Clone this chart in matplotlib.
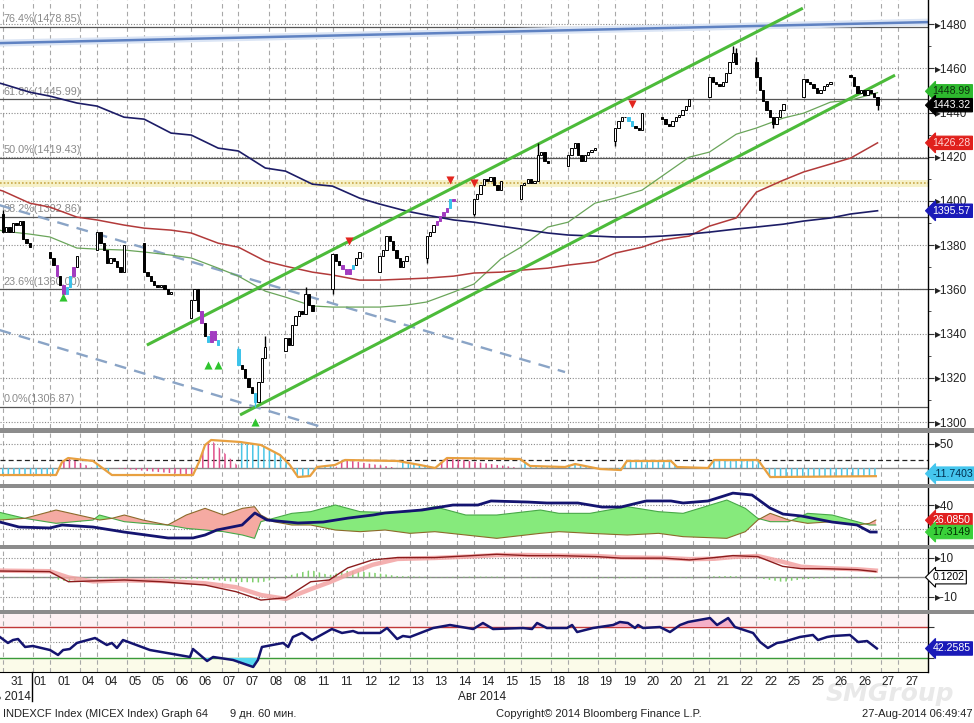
import numpy as np
import matplotlib
matplotlib.use('Agg')
import matplotlib.pyplot as plt
from matplotlib.patches import Rectangle
import matplotlib.transforms as mtransforms

FONT = ['DejaVu Sans Condensed', 'Liberation Sans Narrow', 'Liberation Sans', 'DejaVu Sans']
plt.rcParams['font.family'] = FONT
plt.rcParams['hatch.linewidth'] = 1.1

# ---------------- data ----------------
day_labels = ['31', '01', '01', '04', '04', '05', '05', '06', '06', '07', '07', '08', '08',
              '11', '11', '12', '12', '13', '13', '14', '14', '15', '15', '18', '18', '19', '19',
              '20', '20', '21', '21', '22', '22', '25', '25', '26', '26', '27', '27']

# hourly MICEX bars: 19 sessions x 9 bars (31 Jul .. 26 Aug 2014)
day_open = [1394, 1377, 1378, 1381, 1347, 1333, 1332, 1360, 1368, 1374,
            1394, 1401, 1416, 1427, 1438, 1447, 1463, 1447, 1457]
closes = [
    1386, 1388, 1386, 1390, 1389, 1391, 1383, 1381, 1379,
    1374, 1371, 1366, 1362, 1358, 1361, 1366, 1370, 1375,
    1386, 1381, 1378, 1372, 1374, 1373, 1370, 1368, 1380,
    1368, 1366, 1364, 1362, 1361, 1362, 1360, 1358, 1359,
    1355, 1360, 1350, 1345, 1339, 1336, 1341, 1337, 1335,
    1326, 1324, 1320, 1316, 1313, 1309, 1318, 1329, 1334,
    1338, 1335, 1344, 1348, 1350, 1349, 1358, 1353, 1350,
    1376, 1373, 1371, 1369, 1367, 1369, 1371, 1374, 1377,
    1375, 1378, 1384, 1382, 1378, 1374, 1370, 1373, 1375,
    1384, 1386, 1389, 1391, 1393, 1395, 1397, 1401, 1400,
    1401, 1403, 1407, 1410, 1409, 1411, 1407, 1405, 1409,
    1407, 1408, 1410, 1408, 1409, 1421, 1422, 1418, 1417,
    1421, 1424, 1426, 1421, 1418, 1421, 1422, 1423, 1424,
    1433, 1436, 1438, 1438, 1436, 1434, 1433, 1432, 1440,
    1437, 1435, 1434, 1436, 1438, 1439, 1441, 1443, 1446,
    1456, 1454, 1453, 1452, 1454, 1458, 1463, 1467, 1462,
    1456, 1450, 1445, 1441, 1438, 1435, 1438, 1441, 1444,
    1455, 1454, 1453, 1451, 1449, 1450, 1452, 1453, 1454,
    1456, 1452, 1449, 1450, 1448, 1450, 1449, 1447, 1443.32]
wick_high = {0: 1396, 45: 1334, 53: 1339, 60: 1361, 104: 1426, 142: 1470, 143: 1469, 144: 1465}
wick_low = {13: 1356, 50: 1306.87, 63: 1358, 81: 1372, 90: 1393, 117: 1425, 149: 1433, 170: 1441}
bar_mark = {11: 'p', 13: 'p', 14: 'c', 15: 'c', 16: 'p',
            39: 'p', 41: 'c', 42: 'p', 43: 'p', 44: 'c', 45: 'c', 50: 'c',
            66: 'p', 67: 'p', 68: 'p', 69: 'c',
            84: 'p', 85: 'p', 86: 'p', 87: 'p', 88: 'c', 89: 'p', 121: 'c', 122: 'c'}
up_arrows = [(13, 1356.5), (41, 1326), (44, 1326), (50, 1299.8)]
down_arrows = [(68, 1382), (88, 1409.5), (90, 1408), (122, 1444)]

# moving averages sampled at session start / end
navy_ma = [1453.3,
           1452.9, 1449.2, 1447.4, 1444.3, 1442.9, 1437.9, 1437.0, 1430.7,
           1429.8, 1423.9, 1422.6, 1414.9, 1413.5, 1407.6, 1406.7, 1401.3,
           1398.6, 1395.4, 1393.6, 1391.4, 1390.4, 1388.6, 1387.3, 1385.5,
           1384.6, 1384.1, 1383.7, 1383.7, 1384.1, 1385.0, 1385.9, 1387.3,
           1388.2, 1389.5, 1390.9, 1392.3, 1394.1, 1395.57]
red_ma = [1404.9,
          1404.5, 1399.0, 1397.2, 1392.7, 1391.4, 1389.1, 1387.7, 1386.8,
          1385.5, 1380.9, 1379.1, 1372.8, 1370.5, 1367.8, 1366.5, 1364.2,
          1364.2, 1364.7, 1365.1, 1366.0, 1367.4, 1367.8, 1368.7, 1369.6,
          1371.0, 1372.4, 1376.4, 1379.1, 1382.3, 1384.1, 1388.6, 1392.3,
          1404.0, 1409.4, 1413.1, 1416.7, 1419.4, 1426.28]
green_ma = [1386.8,
            1386.4, 1385.0, 1383.7, 1378.7, 1378.2, 1377.8, 1376.9, 1375.5,
            1374.2, 1369.6, 1366.0, 1359.2, 1356.5, 1352.5, 1352.0, 1352.0,
            1352.0, 1352.9, 1354.3, 1358.8, 1362.4, 1373.7, 1379.1, 1388.2,
            1390.4, 1399.0, 1401.3, 1404.9, 1411.3, 1419.8, 1422.1, 1430.2,
            1433.0, 1437.5, 1439.7, 1444.7, 1445.6, 1448.99]

fib_pct = [76.4, 61.8, 50.0, 38.2, 23.6, 0.0]
fib_val = [1478.85, 1445.99, 1419.43, 1392.86, 1360.00, 1306.87]
upper_channel = [(42.8, 1334.8), (237.8, 1487.2)]
lower_channel = [(70.5, 1303.2), (265.2, 1456.9)]
dashed_a = [(-1.0, 1398.1), (167.1, 1322.6)]
dashed_b = [(-1.0, 1341.6), (95.8, 1297.3)]
blue_line = [(-1.0, 1471.4), (275.0, 1480.9)]
resist_level = 1408.1

# panel 2 oscillator
osc_x = [-0.9, 15.8, 17.6, 19.4, 26.8, 32.4, 56.5, 58.3, 60.1, 61.9, 70.5, 76.7, 82.4,
         85.3, 87.7, 91.3, 93.4, 98.7, 101.7, 117.4, 124, 128.5, 132, 153.7, 156.7,
         167.1, 170.1, 177.5, 183.7, 185.5, 198.6, 200.4, 209.6, 211.4, 224.5, 228.1, 259.5]
osc_v = [-14.6, -14.6, 12.5, 20.8, 14.6, -14.6, -14.6, 12.5, 47.9, 58.3, 54.2, 47.9, 27,
         6.3, -18.8, -16.7, 2.1, 6.3, 16.7, 14.6, 6.3, 0, 20.8, 18.8, 4.2,
         2.1, 8.3, -2.1, -4.2, 14.6, 14.6, 2.1, 0, 16.7, 16.7, -18.8, -17.0]
pink_spans = [(16.5, 19.5), (56, 63), (100, 103), (128, 134)]

# panel 3 ADX / DMI
adx_x = [-0.9, 4.8, 14, 17.6, 26.8, 36, 49.1, 56.5, 60.1, 63.6, 71.1, 74.9, 78.5, 87.7,
         95.2, 102.6, 110, 113.6, 124.6, 133.8, 141.2, 145.1, 156.1, 161.7, 170.9, 178.1,
         183.7, 191.2, 198.6, 202.2, 209.6, 217, 222.7, 228, 231.9, 237.3, 246.5, 253.9,
         257.8, 259.6]
adx_v = [25.7, 21.5, 20.7, 23.2, 21.5, 17.3, 12.3, 12.3, 14.8, 19, 23.2, 33.3, 27.4, 24.9,
         25.7, 29, 31.6, 33.3, 35.8, 40, 40, 43.4, 42.5, 41.7, 41.7, 38.3,
         38.3, 43.4, 43.4, 41.7, 43.4, 50, 48.4, 37.5, 32.4, 30.8, 25.7, 23.2,
         17.3, 17.3]
di_x = [-0.9, 6.5, 15.8, 26.8, 28.7, 32.4, 36.1, 41.6, 49, 54.5, 60.1, 65.6, 71.2, 74.8,
        76.7, 80.4, 85.9, 91.5, 98.8, 106.2, 113.6, 121, 128.4, 137.6, 146.8, 159.8, 165.3,
        174.5, 185.6, 194.9, 202.2, 215.2, 220.7, 224.4, 228.1, 233.6, 239.2, 246.5, 253.9,
        257.6, 259.5]
di_plus = [33.8, 28.8, 24.6, 27.4, 31.6, 28.8, 26.0, 24.6, 23.2, 20.4, 19.0, 17.6, 14.8, 12.0,
           26.0, 28.8, 33.0, 34.4, 40.0, 34.4, 33.8, 34.4, 38.6, 31.6, 31.6, 35.8, 33.0,
           33.0, 38.6, 34.4, 33.0, 44.2, 37.2, 28.8, 26.0, 26.0, 33.0, 31.6, 26.0, 23.2, 23.2]
di_minus = [27.4, 28.8, 35.8, 28.8, 27.4, 28.8, 31.6, 27.4, 23.2, 31.6, 37.2, 31.6, 37.2, 38.6,
            31.6, 26.0, 23.2, 23.2, 19.0, 17.6, 19.0, 16.2, 17.6, 14.8, 12.0, 16.2, 17.6,
            16.2, 14.8, 16.2, 13.4, 12.0, 17.6, 27.4, 33.0, 27.4, 24.6, 26.0, 23.2, 24.6, 27.4]

# panel 4 MACD
macd_x = [-0.9, 13.9, 19.5, 26.8, 36.1, 47.1, 60.1, 69.3, 76.7, 84.1, 91.5, 97, 102.5, 109.9,
          117.3, 128.4, 139.5, 146.8, 156.1, 165.3, 176.4, 183.8, 196.7, 204.1, 211.5, 217,
          224.4, 231.8, 237.3, 244.7, 254, 259.5]
macd_v = [3.3, 3.0, -2.2, -1.8, -1.3, -2.2, -3.9, -7.3, -11.6, -10.4, -2.2, -1.3, 4.9, 9.0,
          10.2, 10.2, 11.2, 11.9, 11.2, 11.2, 10.7, 9.9, 9.9, 9.0, 10.2, 11.2,
          10.7, 5.7, 4.5, 4.5, 4.0, 3.0]
signal_v = [3.5, 3.2, 0.0, -2.0, -1.5, -1.8, -3.0, -5.0, -9.0, -11.0, -6.0, -2.5, 1.5, 6.5,
            9.5, 10.0, 10.8, 11.5, 11.5, 11.2, 11.0, 10.3, 10.0, 9.4, 9.6, 10.5,
            11.0, 8.0, 5.5, 4.8, 4.2, 3.5]

# panel 5 RSI
rsi_x = [-0.9, 1.5, 3.0, 4.5, 6.6, 8.9, 14.0, 16.4, 17.9, 19.9, 22.0, 27.4, 30.9, 32.4, 33.9,
         35.7, 43.7, 55.6, 56.5, 58.6, 60.7, 62.5, 68.4, 74.4, 75.8, 77.0, 83.3, 84.8, 86.2,
         88.9, 91.9, 97.8, 100.8, 104.1, 105.6, 112.1, 114.2, 117.2, 118.9, 121.0, 127.9,
         132.9, 139.8, 142.7, 145.7, 154.6, 157.3, 158.8, 161.7, 167.7, 169.2, 170.7, 175.4,
         181.4, 183.4, 185.8, 187.9, 188.8, 190.3, 195.3, 198.3, 201.3, 203.7, 210.2, 212.3,
         215.6, 217.6, 223.0, 225.1, 227.4, 230.1, 231.9, 236.9, 240.8, 242.3, 245.0, 246.8,
         251.8, 254.2, 256.9, 259.8]
rsi_v = [57.1, 49.4, 53.2, 54.5, 44.2, 45.5, 40.3, 33.9, 40.3, 41.6, 49.4, 55.8, 46.8, 49.4,
         42.9, 53.2, 40.3, 31.3, 41.6, 33.9, 26.1, 31.3, 27.4, 18.4, 27.4, 44.2, 49.4, 44.2,
         57.1, 62.3, 53.2, 67.4, 62.3, 64.8, 62.3, 62.3, 68.7, 54.5, 58.4, 57.1, 68.7, 72.6,
         67.4, 75.2, 67.4, 68.7, 67.4, 75.2, 68.7, 68.7, 72.6, 63.5, 68.7, 72.6, 76.5, 75.2,
         68.7, 72.6, 68.7, 70.0, 63.5, 72.6, 76.5, 81.6, 72.6, 81.6, 70.0, 62.3, 50.6, 42.9,
         49.4, 50.6, 57.1, 59.7, 53.2, 57.1, 58.4, 59.7, 50.6, 51.9, 42.3]

# ---------------- layout ----------------
W, H = 974, 723
XR = 928
XMIN, XMAX = -0.86, 275.0
fig = plt.figure(figsize=(W / 100, H / 100), dpi=100)
fig.patch.set_facecolor('white')

TAGFS = 7.6
TICKFS = 8.5

def px_ax(top, bottom):
    a = fig.add_axes([0, 1 - bottom / H, XR / W, (bottom - top) / H])
    a.set_xlim(XMIN, XMAX)
    for s in ('left', 'top', 'bottom'):
        a.spines[s].set_visible(False)
    a.spines['right'].set_color('black')
    a.spines['right'].set_linewidth(1.0)
    a.yaxis.tick_right()
    a.tick_params(axis='y', direction='out', length=4, width=0.8, pad=1,
                  labelsize=TICKFS, labelcolor='#222222', colors='#333333')
    a.tick_params(axis='x', length=0, labelbottom=False)
    a.set_facecolor('white')
    return a

grid_slots = [14 * k + o for k in range(-1, 21) for o in (0, 9) if XMIN < 14 * k + o < XMAX]

def vgrid(a):
    for s in grid_slots:
        a.axvline(s, color='#a8a8a8', lw=0.8, ls=(0, (4, 3)), zorder=0.5)

def tag(a, y, text, bg, fg, ec=None):
    tr = mtransforms.blended_transform_factory(a.transAxes, a.transData)
    a.text(1.005, y, text, transform=tr, ha='left', va='center', fontsize=TAGFS, color=fg,
           bbox=dict(boxstyle='larrow,pad=0.16', fc=bg, ec=ec or bg, lw=0.8),
           clip_on=False, zorder=30)

ax = px_ax(0, 428)
ax2 = px_ax(433, 484)
ax3 = px_ax(488, 545)
ax4 = px_ax(549, 610)
ax5 = px_ax(614, 672)
for a in (ax, ax2, ax3, ax4, ax5):
    vgrid(a)

# ---------------- main panel ----------------
ax.set_ylim(1297.3, 1490.9)
ax.set_yticks(list(range(1300, 1481, 20)))
ax.set_yticklabels(['\u25b8' + str(v) for v in range(1300, 1481, 20)])
ax.set_yticks(list(range(1310, 1481, 20)), minor=True)
ax.tick_params(axis='y', which='minor', length=2, direction='out', colors='#333333')
for p in range(1300, 1481, 20):
    ax.axhline(p, color='#8a8a8a', lw=0.8, ls=(0, (1, 1.5)), zorder=0.6)
for pct, v in zip(fib_pct, fib_val):
    ax.axhline(v, color='#555555', lw=0.9, zorder=1)
    ax.text(0.3, v + 1.2, f'{pct:.1f}%({v:.2f})', fontsize=7.8, color='#8a8a8a',
            va='bottom', ha='left', zorder=2)
ax.axhline(resist_level, color='#f6f1c8', lw=5, zorder=0.7)
ax.axhline(resist_level, color='#c9a84a', lw=1.2, ls=(0, (1, 1.2)), zorder=0.8)

(bx0, by0), (bx1, by1) = blue_line
ax.plot([bx0, bx1], [by0, by1], color='#dbe5f5', lw=5, zorder=1.1, solid_capstyle='butt')
ax.plot([bx0, bx1], [by0, by1], color='#5f82c2', lw=1.8, zorder=1.2)
for seg in (dashed_a, dashed_b):
    ax.plot([seg[0][0], seg[1][0]], [seg[0][1], seg[1][1]], color='#8aa4c6', lw=1.7,
            ls=(0, (5, 3.5)), zorder=2)

ma_x = [-1.0]
for k in range(19):
    ma_x += [14 * k, 14 * k + 8]
ax.plot(ma_x, green_ma, color='#6aa55a', lw=0.9, zorder=3)
ax.plot(ma_x, red_ma, color='#b23a3a', lw=1.1, zorder=3)
ax.plot(ma_x, navy_ma, color='#1c1c66', lw=1.2, zorder=3)

for seg in (upper_channel, lower_channel):
    ax.plot([seg[0][0], seg[1][0]], [seg[0][1], seg[1][1]], color='#4cbb3a', lw=2.2,
            zorder=4, solid_capstyle='butt')

n = len(closes)
bx = np.array([14 * (b // 9) + b % 9 for b in range(n)], float)
op = np.array([day_open[b // 9] if b % 9 == 0 else closes[b - 1] for b in range(n)], float)
cl = np.array(closes, float)
lo = np.minimum(op, cl)
hi = np.maximum(op, cl)
for b, v in wick_low.items():
    lo[b] = min(lo[b], v)
for b, v in wick_high.items():
    hi[b] = max(hi[b], v)
mark_col = {'p': '#a23cc0', 'c': '#3cc3ea'}
faces, edges = [], []
for b in range(n):
    if b in bar_mark:
        faces.append(mark_col[bar_mark[b]])
        edges.append(mark_col[bar_mark[b]])
    else:
        faces.append('white' if cl[b] >= op[b] else 'black')
        edges.append('black')
ax.vlines(bx, lo, hi, colors=edges, lw=1.0, zorder=6)
ax.bar(bx, cl - op, bottom=op, width=0.7, color=faces, edgecolor=edges, lw=0.7, zorder=7)
ax.scatter([bx[i] for i, _ in up_arrows], [p for _, p in up_arrows], marker='^',
           s=34, color='#2ec42e', zorder=8, linewidths=0)
ax.scatter([bx[i] for i, _ in down_arrows], [p for _, p in down_arrows], marker='v',
           s=34, color='#e3261f', zorder=8, linewidths=0)

tag(ax, 1449.6, '1448.99', '#2eb82e', '#0c300c')
tag(ax, 1443.32, '1443.32', 'black', 'white')
tag(ax, 1426.28, '1426.28', '#e0201c', '#ffd6d6')
tag(ax, 1395.57, '1395.57', '#1a1ab8', 'white')

# ---------------- panel 2 ----------------
ax2.set_ylim(-33.3, 72.9)
ax2.set_yticks([50])
ax2.set_yticklabels(['\u25b850'])
ax2.axhline(50, color='#8a8a8a', lw=0.8, ls=(0, (1, 1.5)), zorder=0.6)
ax2.axhline(17, color='#222222', lw=0.9, ls=(0, (4, 2.5)), zorder=1)
ax2.axhline(0, color='#8a8a8a', lw=1.0, zorder=1)
ox = np.array(osc_x)
ov = np.array(osc_v)
pink = np.zeros_like(ox, dtype=bool)
for a0, a1 in pink_spans:
    pink |= (ox >= a0) & (ox <= a1)
ax2.fill_between(ox, 0, ov, where=~pink, interpolate=True, facecolor='none',
                 edgecolor='#4cc6e6', hatch='|||', lw=0, zorder=2)
ax2.fill_between(ox, 0, ov, where=pink, interpolate=True, facecolor='none',
                 edgecolor='#e0508a', hatch='|||', lw=0, zorder=2)
ax2.plot(ox, ov, color='#e8a040', lw=1.6, zorder=3)
tag(ax2, -11.74, '-11.7403', '#45c6ee', '#003050')

# ---------------- panel 3 ----------------
ax3.set_ylim(6.4, 54.3)
ax3.set_yticks([40])
ax3.set_yticklabels(['\u25b840'])
ax3.axhline(40, color='#8a8a8a', lw=0.8, ls=(0, (1, 1.5)), zorder=0.6)
ax3.axhline(20, color='#8a8a8a', lw=0.8, ls=(0, (1, 1.5)), zorder=0.6)
dx = np.array(di_x)
dp = np.array(di_plus)
dm = np.array(di_minus)
ax3.fill_between(dx, dp, dm, where=dp >= dm, interpolate=True, color='#86ea7c', lw=0, zorder=2)
ax3.fill_between(dx, dp, dm, where=dp < dm, interpolate=True, color='#f5aaa2', lw=0, zorder=2)
ax3.plot(dx, dp, color='#48a848', lw=0.8, zorder=3)
ax3.plot(dx, dm, color='#8c6a2a', lw=0.8, zorder=3)
ax3.plot(adx_x, adx_v, color='#141470', lw=2.0, zorder=4)
tag(ax3, 27.2, '26.0850', '#e02020', 'white')
tag(ax3, 17.31, '17.3149', '#3ad03a', '#003000')

# ---------------- panel 4 ----------------
ax4.set_ylim(-16.7, 14.6)
ax4.set_yticks([10, -10])
ax4.set_yticklabels(['\u25b810', '\u25b8-10'])
ax4.axhline(10, color='#8a8a8a', lw=0.8, ls=(0, (1, 1.5)), zorder=0.6)
ax4.axhline(-10, color='#8a8a8a', lw=0.8, ls=(0, (1, 1.5)), zorder=0.6)
ax4.axhline(0, color='#8a8a8a', lw=1.0, zorder=1)
mx = np.array(macd_x)
mv = np.array(macd_v)
sv = np.array(signal_v)
ax4.fill_between(mx, 0, mv - sv, facecolor='none', edgecolor='#7fd06c', hatch='|||',
                 lw=0, zorder=2)
ax4.plot(mx, sv, color='#f3a3a3', lw=3.2, alpha=0.85, zorder=3)
ax4.plot(mx, mv, color='#8b1c1c', lw=1.0, zorder=4)
tag(ax4, 0.12, '0.1202', 'white', 'black', ec='black')

# ---------------- panel 5 ----------------
ax5.set_ylim(11.9, 86.8)
ax5.set_yticks([70, 30])
ax5.set_yticklabels(['', ''])
ax5.axhspan(70, 86.8, color='#fdf1f3', zorder=0.2)
ax5.axhspan(11.9, 30, color='#fbfbe9', zorder=0.2)
ax5.axhline(70, color='#c03838', lw=1.0, zorder=1)
ax5.axhline(50, color='#8a8a8a', lw=0.8, ls=(0, (1, 1.5)), zorder=1)
ax5.axhline(30, color='#3a9a3a', lw=1.0, zorder=1)
rx = np.array(rsi_x)
rv = np.array(rsi_v)
ax5.fill_between(rx, 70, rv, where=rv > 70, interpolate=True, color='#f5b0c8', lw=0, zorder=2)
ax5.fill_between(rx, 30, rv, where=rv < 30, interpolate=True, color='#56d8f0', lw=0, zorder=2)
ax5.plot(rx, rv, color='#141470', lw=1.8, zorder=3)
tag(ax5, 42.26, '42.2585', '#1a1ab8', 'white')
ax5.spines['bottom'].set_visible(True)
ax5.spines['bottom'].set_color('black')
label_slots = [4.2 + 7 * j for j in range(len(day_labels))]
ax5.set_xticks(label_slots)
ax5.set_xticklabels(day_labels)
ax5.tick_params(axis='x', length=0, pad=3, labelsize=TICKFS, labelcolor='#222222',
                labelbottom=True)

# ---------------- separators & text ----------------
for top, bot in ((428, 433), (484, 488), (545, 549), (610, 614)):
    fig.add_artist(Rectangle((0, 1 - bot / H), 1, (bot - top) / H, transform=fig.transFigure,
                             color='#8c8c8c', lw=0, zorder=50))

fig.text(890 / W, 1 - 694 / H, 'SMGroup', ha='center', va='center', fontsize=18,
         color='#e9e9e9', style='italic', fontweight='bold', family=['DejaVu Sans'],
         zorder=-5)
fig.add_artist(plt.Line2D([32 / W, 32 / W], [1 - 672 / H, 1 - 701 / H], color='black',
                          lw=1.0, transform=fig.transFigure))
fig.text(31 / W, 1 - 697 / H, 'Июль 2014', ha='right', va='center', fontsize=8.5,
         color='#222222')
fig.text(458 / W, 1 - 697 / H, 'Авг 2014', ha='left', va='center', fontsize=8.5,
         color='#222222')
fig.text(3 / W, 1 - 714 / H, 'INDEXCF Index (MICEX Index) Graph 64', ha='left', va='center',
         fontsize=8, color='#222222')
fig.text(230 / W, 1 - 714 / H, '9 дн. 60 мин.', ha='left', va='center', fontsize=8,
         color='#222222')
fig.text(496 / W, 1 - 714 / H, 'Copyright\u00a9 2014 Bloomberg Finance L.P.', ha='left',
         va='center', fontsize=8, color='#222222')
fig.text(972 / W, 1 - 714 / H, '27-Aug-2014 06:49:47', ha='right', va='center', fontsize=8,
         color='#222222')

fig.savefig('out.png', dpi=100, facecolor='white')
